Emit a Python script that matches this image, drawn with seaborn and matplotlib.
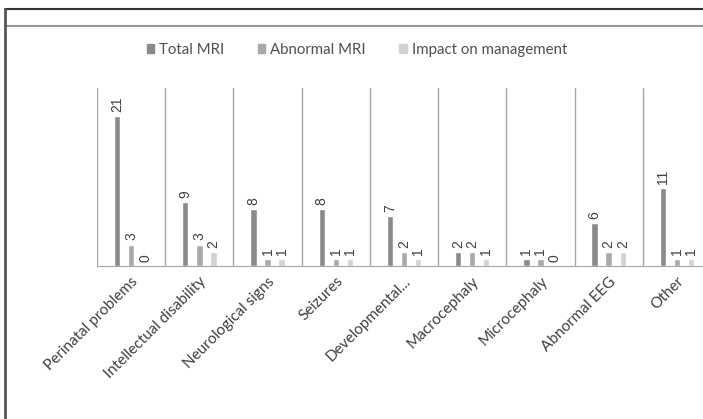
import pandas as pd
import matplotlib
matplotlib.use("Agg")
import matplotlib.pyplot as plt
import seaborn as sns
from matplotlib.lines import Line2D

categories = ["Perinatal problems", "Intellectual disability", "Neurological signs",
              "Seizures", "Developmental...", "Macrocephaly", "Microcephaly",
              "Abnormal EEG", "Other"]
total_mri = [21, 9, 8, 8, 7, 2, 1, 6, 11]
abnormal_mri = [3, 3, 1, 1, 2, 2, 1, 2, 1]
impact_mgmt = [0, 2, 1, 1, 1, 1, 0, 2, 1]
series = ["Total MRI", "Abnormal MRI", "Impact on management"]
colors = ["#8a8a8a", "#a9a9a9", "#d2d2d2"]

df = pd.DataFrame({
    "Category": categories * 3,
    "Value": total_mri + abnormal_mri + impact_mgmt,
    "Series": [s for s in series for _ in categories],
})

sns.set_style("white")
plt.rcParams["font.family"] = ["Lato", "DejaVu Sans"]

W, H = 703, 419
fig = plt.figure(figsize=(W / 100, H / 100), dpi=100)
ax = fig.add_axes([97 / W, (H - 266) / H, (711 - 97) / W, (266 - 88) / H])

sns.barplot(data=df, x="Category", y="Value", hue="Series", palette=colors,
            width=0.62, gap=0.55, ax=ax, legend=False, saturation=1)

for cont in ax.containers:
    ax.bar_label(cont, rotation=90, padding=3, fontsize=10, color="#404040",
                 family="Liberation Sans")

ax.set_ylim(0, 25)
ax.set_xlim(-0.5, len(categories) - 0.5)
for i in range(len(categories)):
    ax.axvline(i - 0.5, color="#a6a6a6", lw=1)
for s in ["top", "right", "left"]:
    ax.spines[s].set_visible(False)
ax.spines["bottom"].set_color("#a6a6a6")
ax.set_yticks([])
ax.set_xlabel("")
ax.set_ylabel("")
ax.tick_params(axis="x", length=0, pad=6)
plt.setp(ax.get_xticklabels(), rotation=45, ha="right", rotation_mode="anchor",
         fontsize=11, color="#404040")

handles = [plt.Rectangle((0, 0), 1, 1, color=c) for c in colors]
fig.legend(handles, series, loc="center", bbox_to_anchor=(357 / W, 1 - 50 / H),
           ncol=3, frameon=False, fontsize=10.8, handlelength=0.5, handleheight=0.5,
           handletextpad=0.35, columnspacing=2.2, labelcolor="#505050")

# outer frame of the original chart box
fig.add_artist(Line2D([5 / W, 1], [1 - 9 / H, 1 - 9 / H], color="#333333", lw=1.5))
fig.add_artist(Line2D([5 / W, 1], [1 - 26 / H, 1 - 26 / H], color="#999999", lw=1.5))
fig.add_artist(Line2D([5 / W, 5 / W], [0, 1 - 9 / H], color="#555555", lw=2))

fig.savefig("out.png", dpi=100)
